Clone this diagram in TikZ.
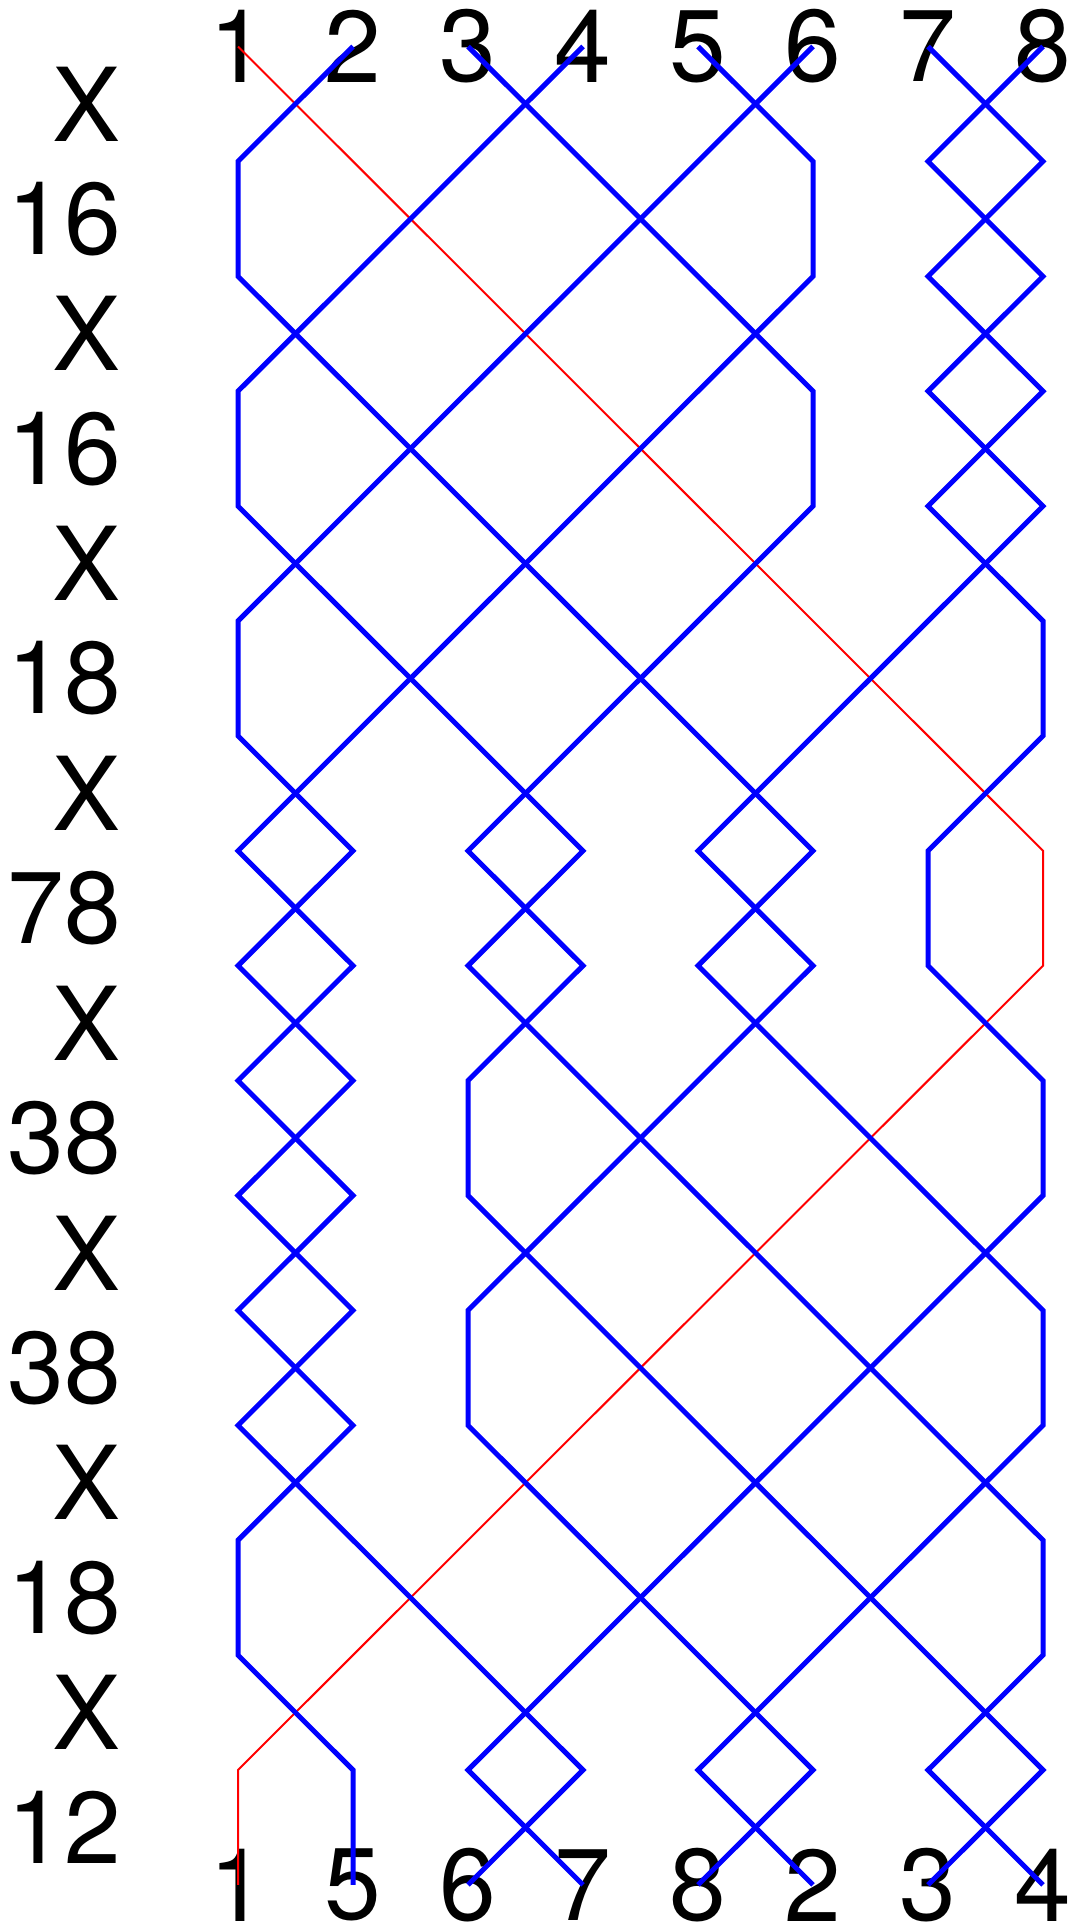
\documentclass[tikz,border=0pt]{standalone}
\usepackage{fontspec}
\setmainfont{TeX Gyre Heros}
\begin{document}
\begin{tikzpicture}[x=1pt,y=1pt,
  num/.style={inner sep=0pt, font=\fontsize{102}{102}\selectfont},
  lbl/.style={inner sep=0pt, anchor=east, font=\fontsize{102}{102}\selectfont},
  bluebell/.style={draw=blue, line width=5pt},
  redbell/.style={draw=red, line width=2pt}]
\useasboundingbox (0,0) rectangle (1075,-1928);
\fill[white] (0,0) rectangle (1075,-1928);
% grid points
\foreach \r in {0,...,16}{
  \foreach \c in {1,...,8}{
    \coordinate (p\r-\c) at ({238+115*(\c-1)}, {-(46.5+114.9*\r)});
  }
}
% top labels
\foreach \c in {1,...,8}{
  \node[num] (t\c) at (p0-\c) {\c};
}
% bottom labels
\foreach \v [count=\c] in {1,5,6,7,8,2,3,4}{
  \node[num] (b\c) at (p16-\c) {\v};
}
% place notation labels
\foreach \t [count=\i from 0] in {X,16,X,16,X,18,X,78,X,38,X,38,X,18,X,12}{
  \coordinate (m\i) at (121, {-(46.5+114.9*(\i+0.5))});
  \node[lbl] (l\i) at (m\i) {\t};
}
\newcommand\bellline[3]{\draw[#1] (p0-#2) \foreach \c [count=\r] in {#3} { -- (p\r-\c) };}
% treble (red)
\bellline{redbell}{1}{2,3,4,5,6,7,8,8,7,6,5,4,3,2,1,1}
% other bells (blue)
\bellline{bluebell}{2}{1,1,2,3,4,5,6,5,6,7,8,8,7,6,5,6}
\bellline{bluebell}{3}{4,5,6,6,5,4,3,4,3,3,4,5,6,7,8,7}
\bellline{bluebell}{4}{3,2,1,1,2,3,4,3,4,5,6,7,8,8,7,8}
\bellline{bluebell}{5}{6,6,5,4,3,2,1,2,1,2,1,2,1,1,2,2}
\bellline{bluebell}{6}{5,4,3,2,1,1,2,1,2,1,2,1,2,3,4,3}
\bellline{bluebell}{7}{8,7,8,7,8,8,7,7,8,8,7,6,5,4,3,4}
\bellline{bluebell}{8}{7,8,7,8,7,6,5,6,5,4,3,3,4,5,6,5}
\end{tikzpicture}
\end{document}
